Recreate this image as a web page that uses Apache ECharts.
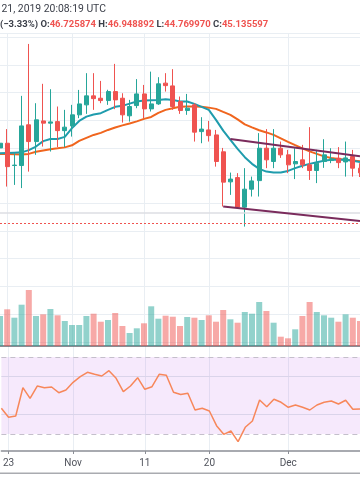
<!DOCTYPE html>
<html><head><meta charset="utf-8">
<script src="https://cdn.jsdelivr.net/npm/echarts@6/dist/echarts.min.js"></script>
<style>html,body{margin:0;padding:0;background:#fff;overflow:hidden}#c{width:360px;height:504px}</style>
</head><body><div id="c"></div>
<script>
const categories = [
 '2019-10-22','2019-10-23','2019-10-24','2019-10-25','2019-10-26','2019-10-27','2019-10-28','2019-10-29','2019-10-30','2019-10-31',
 '2019-11-01','2019-11-02','2019-11-03','2019-11-04','2019-11-05','2019-11-06','2019-11-07','2019-11-08','2019-11-09','2019-11-10',
 '2019-11-11','2019-11-12','2019-11-13','2019-11-14','2019-11-15','2019-11-16','2019-11-17','2019-11-18','2019-11-19','2019-11-20',
 '2019-11-21','2019-11-22','2019-11-23','2019-11-24','2019-11-25','2019-11-26','2019-11-27','2019-11-28','2019-11-29','2019-11-30',
 '2019-12-01','2019-12-02','2019-12-03','2019-12-04','2019-12-05','2019-12-06','2019-12-07','2019-12-08','2019-12-09','2019-12-10',
 '2019-12-11'];
const tickLabels = {'2019-10-23':'23','2019-11-01':'Nov','2019-11-11':'11','2019-11-20':'20','2019-12-01':'Dec'};
// [open, close, low, high]
const candles = [
 [50.00,50.34,49.60,50.60],
 [50.34,48.65,47.21,51.36],[48.73,48.76,47.33,49.60],[48.73,51.59,47.10,53.76],[51.67,50.46,48.29,57.51],[50.46,52.03,49.50,53.23],
 [51.95,51.79,50.10,54.63],[51.79,51.88,49.74,54.24],[51.90,51.25,50.06,52.99],[51.25,51.50,50.06,52.75],[51.59,52.39,50.82,53.11],
 [52.39,53.18,52.15,54.19],[53.11,53.76,52.46,55.40],[53.76,53.56,52.75,55.40],[53.59,53.42,53.23,54.84],[53.42,54.07,53.11,54.20],
 [54.07,53.47,52.80,56.07],[53.59,52.39,51.83,53.95],[52.32,52.99,51.90,53.47],[53.06,53.90,52.87,54.97],[53.90,52.82,52.15,54.55],
 [52.82,53.18,52.63,55.51],[53.18,54.63,53.11,55.11],[54.68,54.50,54.07,55.40],[54.48,52.99,52.75,55.69],[53.35,52.70,52.46,53.71],
 [52.70,52.87,52.39,53.90],[53.11,51.14,50.46,53.23],[51.18,51.36,50.34,52.22],[51.30,50.89,50.46,51.95],[50.94,49.02,48.65,51.30],
 [49.72,47.53,45.77,50.00],[47.55,47.75,46.61,48.22],[47.86,45.72,45.65,48.18],[45.72,47.02,44.32,48.54],[47.02,47.62,46.49,47.93],
 [47.64,49.98,46.49,51.07],[49.98,49.14,48.54,51.36],[49.02,49.98,48.54,51.36],[49.98,49.50,49.28,50.46],[49.50,48.78,48.18,49.86],
 [48.85,49.02,47.75,49.98],[49.14,48.78,48.54,50.22],[48.78,48.37,47.69,51.50],[48.37,48.90,47.46,49.86],[49.02,49.50,48.56,50.63],
 [49.09,49.21,48.90,49.98],[49.26,48.94,48.54,50.06],[48.99,49.28,47.93,50.46],[49.38,48.54,47.93,49.86],[48.54,48.20,47.90,48.90]];
const volumes = [300,
 367,283,413,560,300,317,370,307,250,210,210,300,323,243,260,330,200,130,177,227,
 397,273,303,293,200,290,283,260,307,243,360,267,233,340,323,440,350,233,93,77,
 167,300,440,340,307,283,243,317,283,250];
const maFast = [49.62,
 49.64,49.66,49.68,49.84,50.10,50.49,50.65,50.65,50.80,51.43,51.95,52.26,52.42,52.51,52.75,52.97,53.04,53.20,53.35,53.42,
 53.45,53.47,53.52,53.47,53.35,53.35,53.18,52.97,52.75,52.03,51.25,50.58,49.93,49.33,48.85,48.49,48.29,48.22,48.22,48.34,
 48.54,48.71,48.85,48.97,49.07,49.14,49.14,49.14,49.07,48.99];
const maSlow = [49.57,
 49.57,49.55,49.53,49.57,49.72,49.82,49.91,49.97,50.04,50.19,50.51,50.73,50.94,51.09,51.30,51.48,51.63,51.77,51.92,52.10,
 52.24,52.53,52.75,52.86,52.97,52.99,52.99,52.97,52.91,52.82,52.60,52.39,52.06,51.70,51.48,51.28,51.12,50.94,50.69,50.44,
 50.20,49.97,49.75,49.57,49.39,49.28,49.21,49.14,49.09,49.04];
const rsi = [43.35,
 38.67,39.35,54.05,48.54,54.93,54.05,54.41,51.45,52.86,56.86,59.77,62.05,61.01,60.13,62.88,58.93,51.97,54.93,59.25,53.22,
 54.57,61.01,60.49,51.66,50.52,51.14,42.47,43.35,41.95,34.31,29.84,31.56,26.00,33.48,36.75,47.66,44.18,48.03,46.47,43.87,
 45.06,43.87,42.47,45.06,46.47,47.14,45.58,47.51,42.83,43.00];
const trendUpper = [['2019-11-23',50.64],['2019-12-11',49.40]];
const trendLower = [['2019-11-22',45.77],['2019-12-11',44.73]];
const priceLine = 44.57;
const levelLine = 45.34;
const rsiUpper = 70, rsiLower = 30, rsiGrid = [40, 60];
const headerDate = '21, 2019 20:08:19 UTC';
const headerChange = '(\u22123.33%)';
const ohlc = {O:'46.725874', H:'46.948892', L:'44.769970', C:'45.135597'};

const UP = '#26a69a', DOWN = '#ef5350';
const GRID = '#e9eef3';
const isTick = (idx) => Object.prototype.hasOwnProperty.call(tickLabels, categories[idx]);
const volData = volumes.map((v, i) => ({
  value: v,
  itemStyle: { color: candles[i][1] >= candles[i][0] ? 'rgba(38,166,154,0.5)' : 'rgba(239,83,80,0.5)' }
}));

const chart = echarts.init(document.getElementById('c'), null, {renderer: 'canvas'});
const L = -2.83, R = -3.83;
const xBase = {type: 'category', data: categories, boundaryGap: false,
  axisLabel: {show: false}, axisTick: {show: false}, axisLine: {show: false},
  splitLine: {show: true, interval: isTick, lineStyle: {color: GRID, width: 1}}};
const FS2 = 9.5;
chart.setOption({
  animation: false,
  backgroundColor: '#ffffff',
  title: [
    {text: headerDate, left: 1.5, top: 4.5, padding: 0,
     textStyle: {fontFamily: 'Roboto', fontSize: 10.4, fontWeight: 'normal', color: '#3b3f49'}},
    {text: '{d|' + headerChange + ' }{d|O:}{v|' + ohlc.O + ' }{d|H:}{v|' + ohlc.H + ' }{d|L:}{v|' + ohlc.L + ' }{d|C:}{v|' + ohlc.C + '}',
     left: 0, top: 19.5, padding: 0,
     textStyle: {fontFamily: 'Roboto', fontSize: FS2, rich: {
       d: {fontFamily: 'Roboto', fontSize: FS2, fontWeight: 'bold', color: '#3b3f49'},
       v: {fontFamily: 'Roboto', fontSize: FS2, color: '#ef5350'}}}}
  ],
  graphic: [
    {type: 'line', shape: {x1: 0, y1: 473.3, x2: 360, y2: 473.3}, style: {stroke: '#a9abb0', lineWidth: 1.5}, z: 10}
  ],
  grid: [
    {left: L, right: R, top: 33, bottom: 162.2},
    {left: L, right: R, top: 246, bottom: 158},
    {left: L, right: R, top: 346, bottom: 53}
  ],
  xAxis: [
    Object.assign({}, xBase, {gridIndex: 0}),
    Object.assign({}, xBase, {gridIndex: 1, axisLine: {show: true, lineStyle: {color: '#63666f', width: 1.5}}}),
    Object.assign({}, xBase, {gridIndex: 2,
      axisLine: {show: true, lineStyle: {color: '#8c8f96', width: 1.5}},
      axisTick: {show: true, interval: isTick, length: 3, lineStyle: {color: '#8c8f96', width: 1}},
      axisLabel: {show: true, interval: isTick, formatter: (v) => tickLabels[v] || '',
        color: '#50535c', fontFamily: 'Roboto', fontSize: 10, margin: 7}})
  ],
  yAxis: [
    {gridIndex: 0, type: 'value', min: 36, max: 58.3, interval: 2, axisLabel: {show: false},
     axisLine: {show: false}, axisTick: {show: false}, splitLine: {show: true, lineStyle: {color: GRID, width: 1}}},
    {gridIndex: 1, type: 'value', min: 0, max: 1000, show: false, splitLine: {show: false}},
    {gridIndex: 2, type: 'value', min: 21.17, max: 75.71, show: false, splitLine: {show: false}}
  ],
  series: [
    {type: 'bar', xAxisIndex: 1, yAxisIndex: 1, data: volData, barWidth: 6, z: 1},
    {type: 'line', xAxisIndex: 0, yAxisIndex: 0, data: maSlow, symbol: 'none', z: 3,
     lineStyle: {color: '#f0651e', width: 2}},
    {type: 'line', xAxisIndex: 0, yAxisIndex: 0, data: maFast, symbol: 'none', z: 3,
     lineStyle: {color: '#1f9cad', width: 2}},
    {type: 'candlestick', xAxisIndex: 0, yAxisIndex: 0, data: candles, barWidth: 4.5, z: 4,
     itemStyle: {color: UP, color0: DOWN, borderColor: UP, borderColor0: DOWN, borderWidth: 1},
     markLine: {silent: true, symbol: 'none', label: {show: false},
       data: [
         {yAxis: levelLine, lineStyle: {color: '#dcdee3', width: 1.5, type: 'solid'}},
         {yAxis: priceLine, lineStyle: {color: '#ef5350', width: 1, type: [2, 2]}}
       ]}},
    {type: 'line', xAxisIndex: 0, yAxisIndex: 0, data: trendUpper, symbol: 'none', z: 5,
     lineStyle: {color: '#7a2b5c', width: 2}},
    {type: 'line', xAxisIndex: 0, yAxisIndex: 0, data: trendLower, symbol: 'none', z: 5,
     lineStyle: {color: '#7a2b5c', width: 2}},
    {type: 'line', xAxisIndex: 2, yAxisIndex: 2, data: rsi, symbol: 'none', z: 5,
     lineStyle: {color: '#f7875a', width: 1.5},
     markArea: {silent: true, itemStyle: {color: 'rgba(188,88,235,0.13)'},
       data: [[{yAxis: rsiLower}, {yAxis: rsiUpper}]]},
     markLine: {silent: true, symbol: 'none', label: {show: false},
       data: [
         {yAxis: rsiUpper, lineStyle: {color: '#c4bfcb', width: 1, type: [5, 4]}},
         {yAxis: rsiLower, lineStyle: {color: '#c4bfcb', width: 1, type: [5, 4]}},
         {yAxis: rsiGrid[0], lineStyle: {color: '#dad4ea', width: 1, type: 'solid'}},
         {yAxis: rsiGrid[1], lineStyle: {color: '#dad4ea', width: 1, type: 'solid'}}
       ]}}
  ]
});
</script></body></html>
